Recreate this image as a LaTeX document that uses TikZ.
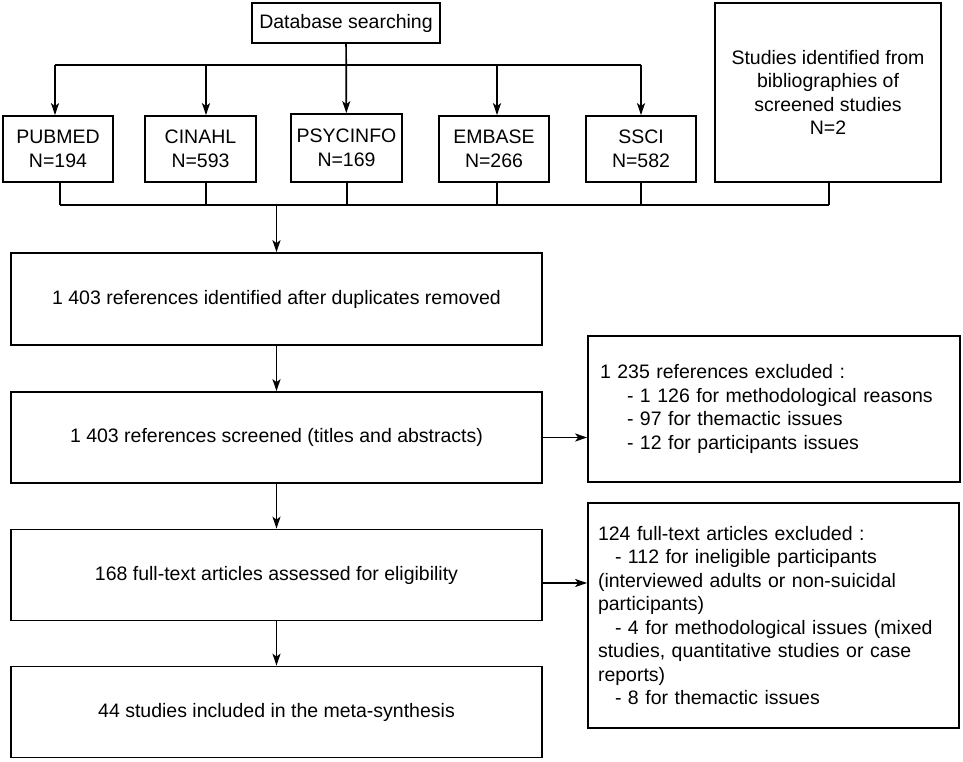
\documentclass[tikz,border=0pt]{standalone}
\usepackage{fontspec}
\setmainfont{Liberation Sans}
\usetikzlibrary{arrows.meta}
\begin{document}
\begin{tikzpicture}[x=1pt,y=-1pt,
  box/.style={draw, line width=1.7pt, inner sep=0pt, align=center,
    font=\fontsize{19.5}{23.5}\selectfont},
  exbox/.style={draw, line width=1.7pt, inner ysep=0pt, align=left,
    font=\fontsize{19.5}{23.5}\selectfont},
  conn/.style={line width=1.7pt},
  arr/.style={line width=1.7pt, -{Stealth[length=12pt,width=8pt,inset=3pt]}}]
\useasboundingbox (0,0) rectangle (963,762);
% top
\node[box, minimum width=188pt, minimum height=40pt] (db) at (346,23) {Database searching};
\node[box, minimum width=110pt, minimum height=66pt] (pub) at (58,149) {PUBMED\\N=194};
\node[box, minimum width=111pt, minimum height=66pt] (cin) at (200.5,149) {CINAHL\\N=593};
\node[box, minimum width=111pt, minimum height=68pt] (psy) at (346.5,148) {PSYCINFO\\N=169};
\node[box, minimum width=110pt, minimum height=66pt] (emb) at (494,149) {EMBASE\\N=266};
\node[box, minimum width=110pt, minimum height=66pt] (ssci) at (641,149) {SSCI\\N=582};
\node[box, minimum width=226pt, minimum height=179pt] (stud) at (828,92.5) {Studies identified from\\bibliographies of\\screened studies\\N=2};
% main column
\node[box, minimum width=531pt, minimum height=92pt] (b1) at (276.5,299) {1 403 references identified after duplicates removed};
\node[box, minimum width=531pt, minimum height=91pt] (b2) at (276.5,437.5) {1 403 references screened (titles and abstracts)};
\node[box, minimum width=531pt, minimum height=91pt] (b3) at (276.5,575) {168 full-text articles assessed for eligibility};
\node[box, minimum width=531pt, minimum height=91pt] (b4) at (276.5,712) {44 studies included in the meta-synthesis};
% exclusions
\node[exbox, inner xsep=12pt, text width=348pt, minimum height=146pt] (ex1) at (774,409) {1 235 references excluded :\\
\hspace*{27pt}- 1 126 for methodological reasons\\
\hspace*{27pt}- 97 for themactic issues\\
\hspace*{27pt}- 12 for participants issues};
\node[exbox, inner xsep=10pt, text width=351pt, minimum height=225pt] (ex2) at (773.5,615.5) {124 full-text articles excluded :\\
\hspace*{17pt}- 112 for ineligible participants\\
(interviewed adults or non-suicidal\\
participants)\\
\hspace*{17pt}- 4 for methodological issues (mixed\\
studies, quantitative studies or case\\
reports)\\
\hspace*{17pt}- 8 for themactic issues};
% top bus
\coordinate (t1) at (55,65);
\coordinate (t2) at (206,65);
\coordinate (t4) at (497,65);
\coordinate (t5) at (641,65);
\draw[conn] (t1) -- (t5);
\draw[arr] (db) -- (psy);
\draw[arr] (t1) -- (t1 |- pub.north);
\draw[arr] (t2) -- (t2 |- cin.north);
\draw[arr] (t4) -- (t4 |- emb.north);
\draw[arr] (t5) -- (ssci.north);
% bottom bus
\coordinate (d1) at (60,205);
\coordinate (d2) at (206,205);
\coordinate (d3) at (347,205);
\coordinate (d4) at (497,205);
\coordinate (d5) at (641,205);
\coordinate (d6) at (829,205);
\coordinate (m) at (276.5,205);
\draw[conn] (d1) -- (d6);
\draw[conn] (d1 |- pub.south) -- (d1);
\draw[conn] (d2 |- cin.south) -- (d2);
\draw[conn] (d3 |- psy.south) -- (d3);
\draw[conn] (d4 |- emb.south) -- (d4);
\draw[conn] (ssci.south) -- (d5);
\draw[conn] (d6 |- stud.south) -- (d6);
\draw[arr] (m) -- (b1.north);
% main arrows
\draw[arr] (b1) -- (b2);
\draw[arr] (b2) -- (b3);
\draw[arr] (b3) -- (b4);
\draw[arr] (b2.east) -- (b2.east -| ex1.west);
\coordinate (a3) at (542,583);
\draw[arr] (a3) -- (a3 -| ex2.west);
\end{tikzpicture}
\end{document}
